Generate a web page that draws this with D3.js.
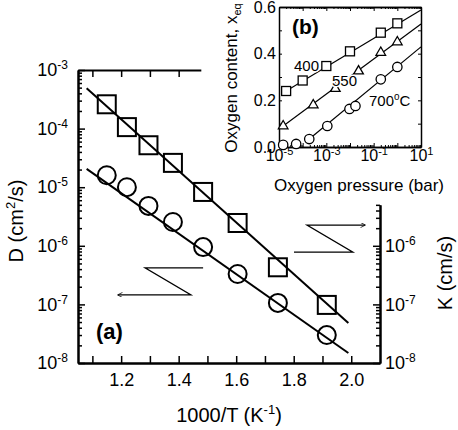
<!DOCTYPE html>
<html>
<head>
    <script src="https://d3js.org/d3.v7.min.js"></script>
    <style>
        body { margin: 0; background: #fff; }
        text { font-family: "Liberation Sans", Arial, sans-serif; fill: #000; }
    </style>
</head>
<body>
    <svg width="458" height="430"></svg>

    <script>
        // main panel (a): 1000/T vs D (squares, left axis) and K (circles, right axis)
        var invT = [1.15, 1.22, 1.295, 1.38, 1.485, 1.605, 1.745, 1.915];
        var diffD = [2.6e-4, 1.06e-4, 5.2e-5, 2.6e-5, 8.3e-6, 2.45e-6, 4.3e-7, 9.8e-8];
        var surfK = [1.6e-5, 1.0e-5, 4.8e-6, 2.55e-6, 9.5e-7, 3.3e-7, 1.06e-7, 3.0e-8];
        var fitD = [[1.08, 4.9e-4], [1.99, 4.8e-8]];
        var fitK = [[1.08, 2.05e-5], [1.99, 1.48e-8]];
        var arrowLeft = [[1.485, 4.2e-7], [1.283, 4.2e-7], [1.443, 1.45e-7], [1.189, 1.45e-7]];
        var arrowRight = [[1.801, 7.8e-7], [2.006, 7.8e-7], [1.846, 2.26e-6], [2.048, 2.26e-6]];
        var xMajor = [1.2, 1.4, 1.6, 1.8, 2.0];
        var xMinor = [1.1, 1.3, 1.5, 1.7, 1.9];

        // inset (b): oxygen pressure vs oxygen content
        var p400 = [2e-5, 1e-4, 1e-3, 1e-2, 0.2, 1];
        var x400 = [0.24, 0.285, 0.347, 0.41, 0.49, 0.53];
        var p550 = [1.5e-5, 2.8e-4, 2.4e-3, 2.3e-2, 0.2, 1];
        var x550 = [0.09, 0.18, 0.25, 0.325, 0.405, 0.45];
        var p700 = [1.5e-5, 5.3e-5, 1.9e-4, 1.1e-3, 9.5e-3, 1.7e-2, 0.2, 1];
        var x700 = [0.009, 0.013, 0.034, 0.09, 0.163, 0.176, 0.29, 0.343];
        var fit400 = [[2e-5, 0.24], [10, 0.587]];
        var fit550 = [[1.5e-5, 0.09], [10, 0.527]];
        var fit700 = [[1.9e-4, 0.034], [10, 0.429]];
        var insetXLabels = [1e-5, 1e-3, 1e-1, 1e1];
        var insetYTicks = [0, 0.1, 0.2, 0.3, 0.4, 0.5, 0.6];
        var insetYLabels = [0, 0.2, 0.4, 0.6];

        var svg = d3.select("svg");

        var x = d3.scaleLinear().domain([1.05, 2.1]).range([78, 380]);
        var yD = d3.scaleLog().domain([1e-8, 1e-3]).range([363, 70]);
        var yK = d3.scaleLog().domain([1e-8, 1e-3]).range([363, 70]);

        // the inset hides the upper part of the right axis and the right part of the top axis
        var yKShown = yK.copy().domain([1e-8, 5e-6]).range([yK(1e-8), yK(5e-6)]);
        var xTopShown = x.copy().domain([1.05, 1.477]).range([x(1.05), x(1.477)]);

        function isPow10(d) { return Math.abs(Math.log10(d) - Math.round(Math.log10(d))) < 1e-6; }

        // write "10" with a raised exponent into a tick text
        function powLabel(sel, supSize, rise) {
            sel.each(function(d) {
                var t = d3.select(this);
                t.text(null);
                if (!isPow10(d)) return;
                t.append("tspan").text("10");
                t.append("tspan").attr("dy", -rise).attr("font-size", supSize)
                    .text(Math.round(Math.log10(d)));
            });
        }

        function styleAxis(g, w) {
            g.select(".domain").attr("stroke-width", w);
            g.selectAll(".tick line").attr("stroke-width", 1.5);
            g.selectAll("text").attr("fill", "#000");
        }

        var logTicks = yD.ticks();
        var logMinor = logTicks.filter(function(d) { return !isPow10(d); });
        var logMajor = logTicks.filter(isPow10);

        // left axis (D)
        var gl = svg.append("g").attr("transform", "translate(78,0)");
        gl.append("g").call(d3.axisLeft(yD).tickValues(logMinor).tickSize(-4).tickSizeOuter(0).tickFormat(""));
        gl.append("g").call(d3.axisLeft(yD).tickValues(logMajor).tickSize(-7).tickSizeOuter(0).tickPadding(10))
            .attr("font-size", 18).attr("font-family", null)
            .call(function(g) { powLabel(g.selectAll(".tick text"), 12, 7); });
        gl.selectAll("g").each(function() { styleAxis(d3.select(this), 2); });

        // right axis (K)
        var gr = svg.append("g").attr("transform", "translate(380,0)");
        gr.append("g").call(d3.axisRight(yKShown).tickValues(logMinor.filter(function(d) { return d <= 5e-6; }))
            .tickSize(-4).tickSizeOuter(0).tickFormat(""));
        gr.append("g").call(d3.axisRight(yKShown).tickValues(logMajor.filter(function(d) { return d <= 1e-6; }))
            .tickSize(-7).tickSizeOuter(0).tickPadding(5))
            .attr("font-size", 18).attr("font-family", null)
            .call(function(g) { powLabel(g.selectAll(".tick text"), 12, 7); });
        gr.selectAll("g").each(function() { styleAxis(d3.select(this), 2); });

        // bottom + top axes
        var gb = svg.append("g").attr("transform", "translate(0,363)");
        gb.append("g").call(d3.axisBottom(x).tickValues(xMinor).tickSize(-7).tickSizeOuter(0).tickFormat(""));
        gb.append("g").call(d3.axisBottom(x).tickValues(xMajor).tickSize(-7).tickSizeOuter(0).tickPadding(10)
            .tickFormat(d3.format(".1f")))
            .attr("font-size", 18).attr("font-family", null);
        gb.selectAll("g").each(function() { styleAxis(d3.select(this), 2); });

        var gt = svg.append("g").attr("transform", "translate(0,70)");
        gt.append("g").call(d3.axisTop(xTopShown).tickValues([1.1, 1.2, 1.3, 1.4]).tickSize(-7).tickSizeOuter(0).tickFormat(""));
        gt.selectAll("g").each(function() { styleAxis(d3.select(this), 2); });

        // fits and markers
        var lineD = d3.line().x(function(d) { return x(d[0]); }).y(function(d) { return yD(d[1]); });
        var lineK = d3.line().x(function(d) { return x(d[0]); }).y(function(d) { return yK(d[1]); });

        svg.append("path").attr("d", lineD(fitD)).attr("fill", "none").attr("stroke", "#000").attr("stroke-width", 2);
        svg.append("path").attr("d", lineK(fitK)).attr("fill", "none").attr("stroke", "#000").attr("stroke-width", 2);

        var sq = 18;
        svg.append("g").selectAll("rect")
            .data(invT.map(function(t, i) { return [t, diffD[i]]; }))
            .enter().append("rect")
            .attr("x", function(d) { return x(d[0]) - sq / 2; })
            .attr("y", function(d) { return yD(d[1]) - sq / 2; })
            .attr("width", sq).attr("height", sq)
            .attr("fill", "none").attr("stroke", "#000").attr("stroke-width", 2);

        svg.append("g").selectAll("circle")
            .data(invT.map(function(t, i) { return [t, surfK[i]]; }))
            .enter().append("circle")
            .attr("cx", function(d) { return x(d[0]); })
            .attr("cy", function(d) { return yK(d[1]); })
            .attr("r", 9)
            .attr("fill", "none").attr("stroke", "#000").attr("stroke-width", 2);

        // arrows
        svg.append("defs").append("marker")
            .attr("id", "head").attr("viewBox", "0 0 10 10").attr("refX", 9).attr("refY", 5)
            .attr("markerWidth", 7).attr("markerHeight", 5).attr("markerUnits", "userSpaceOnUse")
            .attr("orient", "auto")
          .append("path").attr("d", "M0,0L10,5L0,10").attr("fill", "none").attr("stroke", "#000").attr("stroke-width", 1.5);

        [arrowLeft, arrowRight].forEach(function(a) {
            svg.append("path").attr("d", lineD(a))
                .attr("fill", "none").attr("stroke", "#000").attr("stroke-width", 1.2)
                .attr("marker-end", "url(#head)");
        });

        svg.append("text").attr("x", 96).attr("y", 339).attr("font-size", 22).attr("font-weight", "bold").text("(a)");

        // axis titles
        var tD = svg.append("text").attr("transform", "translate(23,221) rotate(-90)")
            .attr("text-anchor", "middle").attr("font-size", 20);
        tD.append("tspan").text("D (cm");
        tD.append("tspan").attr("dy", -8).attr("font-size", 13).text("2");
        tD.append("tspan").attr("dy", 8).text("/s)");

        svg.append("text").attr("transform", "translate(452,273) rotate(-90)")
            .attr("text-anchor", "middle").attr("font-size", 20).text("K (cm/s)");

        var tX = svg.append("text").attr("x", 229).attr("y", 422).attr("text-anchor", "middle").attr("font-size", 20);
        tX.append("tspan").text("1000/T (K");
        tX.append("tspan").attr("dy", -8).attr("font-size", 13).text("-1");
        tX.append("tspan").attr("dy", 8).text(")");

        // ---------- inset (b) ----------
        var xi = d3.scaleLog().domain([1e-5, 10]).range([279, 421]);
        var yi = d3.scaleLinear().domain([0, 0.6]).range([147, 7]);

        var iTicks = xi.ticks();
        var iMinor = iTicks.filter(function(d) { return !isPow10(d); });
        var iMajor = iTicks.filter(isPow10);

        var ib = svg.append("g").attr("transform", "translate(0,147)");
        ib.append("g").call(d3.axisBottom(xi).tickValues(iMinor).tickSize(-2).tickSizeOuter(0).tickFormat(""));
        ib.append("g").call(d3.axisBottom(xi).tickValues(iMajor).tickSize(-4).tickSizeOuter(0).tickPadding(3))
            .attr("font-size", 16).attr("font-family", null)
            .call(function(g) {
                g.selectAll(".tick text").each(function(d) {
                    var keep = insetXLabels.some(function(v) { return Math.abs(Math.log10(v) - Math.log10(d)) < 1e-6; });
                    if (!keep) d3.select(this).remove();
                });
                powLabel(g.selectAll(".tick text"), 11, 6);
            });
        var it = svg.append("g").attr("transform", "translate(0,7)");
        it.append("g").call(d3.axisTop(xi).tickValues(iMinor).tickSize(-2).tickSizeOuter(0).tickFormat(""));
        it.append("g").call(d3.axisTop(xi).tickValues(iMajor).tickSize(-4).tickSizeOuter(0).tickFormat(""));

        var il = svg.append("g").attr("transform", "translate(279,0)");
        il.append("g").call(d3.axisLeft(yi).tickValues(insetYTicks).tickSize(-3).tickSizeOuter(0).tickPadding(3)
            .tickFormat(function(d) { return insetYLabels.indexOf(d) >= 0 ? d3.format(".1f")(d) : ""; }))
            .attr("font-size", 16).attr("font-family", null);
        var ir = svg.append("g").attr("transform", "translate(421,0)");
        ir.append("g").call(d3.axisRight(yi).tickValues(insetYTicks).tickSize(-3).tickSizeOuter(0).tickFormat(""));

        [ib, it, il, ir].forEach(function(g) {
            g.selectAll("g").each(function() {
                var s = d3.select(this);
                s.select(".domain").attr("stroke-width", 1.5);
                s.selectAll(".tick line").attr("stroke-width", 1);
                s.selectAll("text").attr("fill", "#000");
            });
        });

        var lineI = d3.line().x(function(d) { return xi(d[0]); }).y(function(d) { return yi(d[1]); });
        [fit400, fit550, fit700].forEach(function(f) {
            svg.append("path").attr("d", lineI(f)).attr("fill", "none").attr("stroke", "#000").attr("stroke-width", 1.2);
        });

        function pairs(p, v) { return p.map(function(d, i) { return [d, v[i]]; }); }

        var isq = 9;
        svg.append("g").selectAll("rect").data(pairs(p400, x400)).enter().append("rect")
            .attr("x", function(d) { return xi(d[0]) - isq / 2; })
            .attr("y", function(d) { return yi(d[1]) - isq / 2; })
            .attr("width", isq).attr("height", isq)
            .attr("fill", "#fff").attr("stroke", "#000").attr("stroke-width", 1.3);

        svg.append("g").selectAll("path").data(pairs(p550, x550)).enter().append("path")
            .attr("transform", function(d) { return "translate(" + xi(d[0]) + "," + yi(d[1]) + ")"; })
            .attr("d", d3.symbol().type(d3.symbolTriangle).size(40))
            .attr("fill", "#fff").attr("stroke", "#000").attr("stroke-width", 1.3);

        svg.append("g").selectAll("circle").data(pairs(p700, x700)).enter().append("circle")
            .attr("cx", function(d) { return xi(d[0]); })
            .attr("cy", function(d) { return yi(d[1]); })
            .attr("r", 4.7)
            .attr("fill", "#fff").attr("stroke", "#000").attr("stroke-width", 1.3);

        function haloText(xp, yp, size) {
            return svg.append("text").attr("x", xp).attr("y", yp).attr("font-size", size)
                .attr("stroke", "#fff").attr("stroke-width", 3).attr("paint-order", "stroke");
        }
        haloText(294, 71, 15).text("400");
        haloText(332, 86, 15).text("550");
        var t700 = haloText(369, 106, 15);
        t700.append("tspan").text("700");
        t700.append("tspan").attr("dy", -6).attr("font-size", 10).text("o");
        t700.append("tspan").attr("dy", 6).text("C");

        svg.append("text").attr("x", 292).attr("y", 34).attr("font-size", 21).attr("font-weight", "bold").text("(b)");

        var tyi = svg.append("text").attr("transform", "translate(237,78) rotate(-90)")
            .attr("text-anchor", "middle").attr("font-size", 17);
        tyi.append("tspan").text("Oxygen content, x");
        tyi.append("tspan").attr("dy", 4).attr("font-size", 11).text("eq");

        svg.append("text").attr("x", 359).attr("y", 191).attr("text-anchor", "middle").attr("font-size", 17)
            .text("Oxygen pressure (bar)");
    </script>
</body>
</html>
